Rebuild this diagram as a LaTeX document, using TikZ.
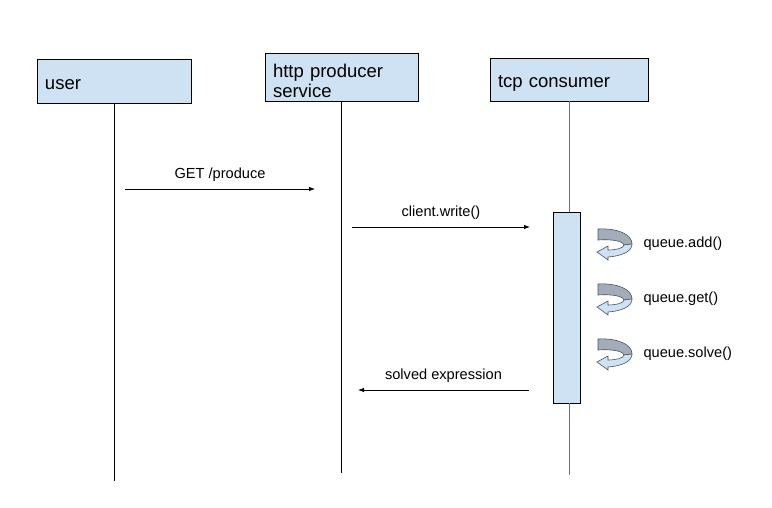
\documentclass[tikz,border=0pt]{standalone}
\usepackage{fontspec}
\setmainfont{Liberation Sans}
\usetikzlibrary{arrows.meta}

\definecolor{boxblue}{HTML}{CFE2F3}
\definecolor{loopgray}{HTML}{A3ACB9}
\definecolor{loopline}{HTML}{4A5360}
\definecolor{lifegray}{HTML}{6F6F6F}

% text sits a little low in the boxes
\newcommand{\lowtext}[1]{\raisebox{-3.5pt}[\height][\depth]{#1}}

\tikzset{
  selfcall/.pic={
    \filldraw[fill=loopgray, draw=loopline, line width=0.6pt] (1,0) .. controls (20,-1) and (35,5) .. (35,15) -- (27,16) .. controls (26,12) and (15,10) .. (1,11) -- cycle;
    \filldraw[fill=boxblue, draw=loopline, line width=0.6pt] (35,15) .. controls (35,23) and (24,27) .. (11,28) -- (11,31) -- (0,23) -- (11,17) -- (11,21) .. controls (19,21) and (27,19) .. (27,16) -- cycle;
  }
}

\begin{document}
\begin{tikzpicture}[x=1pt, y=-1pt,
    actor/.style={draw, line width=0.9pt, fill=boxblue, align=left, inner xsep=8pt, font=\fontsize{18.5}{20}\selectfont},
    life/.style={line width=0.9pt},
    msg/.style={-{Latex[length=6pt,width=4.5pt]}, line width=0.8pt},
    msglabel/.style={font=\fontsize{14.6}{16}\selectfont, above=4pt},
    call/.style={font=\fontsize{14.6}{16}\selectfont, anchor=west}]
    \useasboundingbox (0,0) rectangle (772,507);

    % Participants
    \node[actor, minimum width=154pt, text width=138pt, minimum height=44pt] (user) at (114,81) {\lowtext{user}};
    \node[actor, minimum width=153pt, text width=137pt, minimum height=48pt] (http) at (341.5,77) {\lowtext{http producer}\\\lowtext{service}};
    \node[actor, minimum width=158pt, text width=142pt, minimum height=43pt] (tcp) at (569,79.5) {\lowtext{tcp consumer}};

    % Lifelines
    \coordinate (userend) at (114,481);
    \coordinate (httpend) at (341.5,473);
    \coordinate (tcpend) at (569,475);
    \node[draw, fill=boxblue, line width=0.9pt, minimum width=27pt, minimum height=191pt, inner sep=0pt] (act) at (566.5,307.5) {};
    \draw[life] (user.south) -- (userend);
    \draw[life] (http.south) -- (httpend);
    \draw[life, draw=lifegray] (tcp.south) -- (tcp.south |- act.north);
    \draw[life, draw=lifegray] (tcp.south |- act.south) -- (tcpend);

    % Messages
    \coordinate (m1a) at (125,189);
    \coordinate (m1b) at (315,189);
    \draw[msg] (m1a) -- (m1b) node[msglabel, midway] {GET /produce};
    \coordinate (m2a) at (352,227);
    \coordinate (m2b) at (530,227);
    \draw[msg] (m2a) -- (m2b) node[msglabel, midway] {client.write()};
    \coordinate (m3a) at (529,390);
    \coordinate (m3b) at (358,390);
    \draw[msg] (m3a) -- (m3b) node[msglabel, midway] {solved expression};

    % Self calls
    \pic at (597,229) {selfcall};
    \node[call] (add) at (640,244) {queue.add()};
    \pic at (597,284) {selfcall};
    \node[call] (get) at (640,299) {queue.get()};
    \pic at (597,339) {selfcall};
    \node[call] (solve) at (640,354) {queue.solve()};
\end{tikzpicture}
\end{document}
